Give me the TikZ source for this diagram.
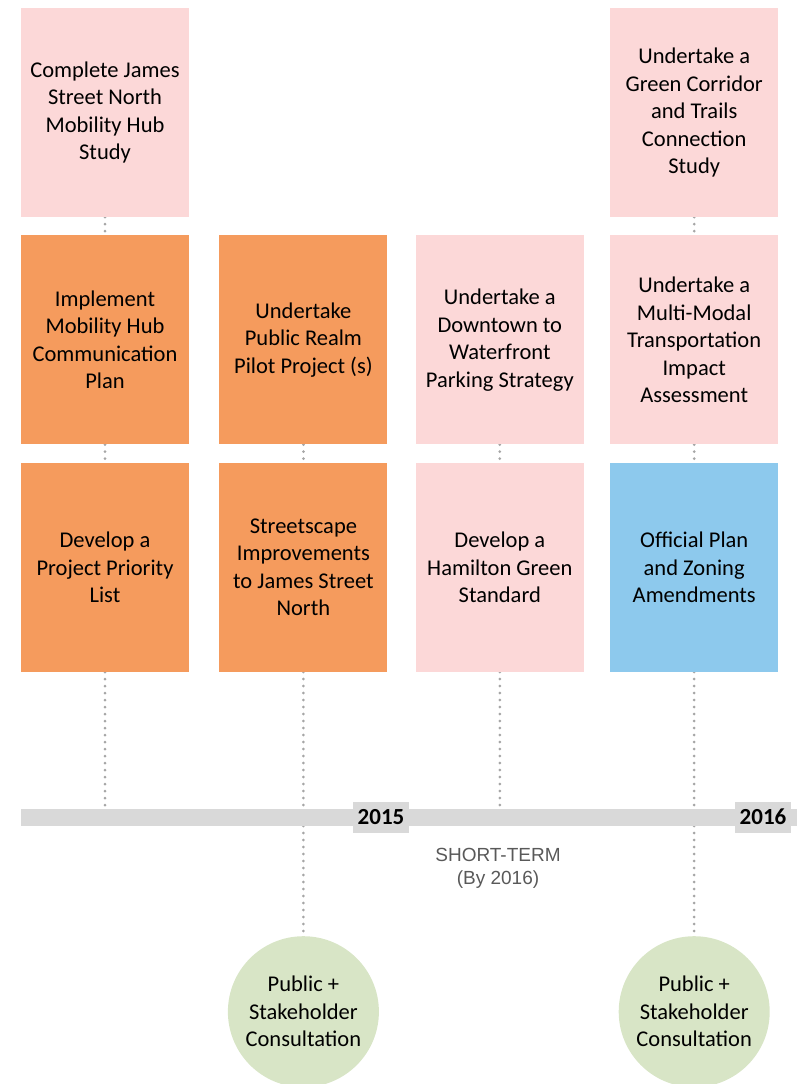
\documentclass[tikz,border=0pt]{standalone}
\usepackage{fontspec}
\setmainfont{Carlito}
\newfontfamily\arialfont{Liberation Sans}
\usetikzlibrary{positioning,backgrounds}

\definecolor{pinkbox}{HTML}{FCD8D8}
\definecolor{orangebox}{HTML}{F59B5D}
\definecolor{bluebox}{HTML}{8DC9ED}
\definecolor{greencirc}{HTML}{D8E5C6}
\definecolor{barfill}{HTML}{D9D9D9}
\definecolor{dotgray}{HTML}{A6A6A6}
\definecolor{termgray}{HTML}{595959}

\begin{document}
\begin{tikzpicture}[
    x=1pt, y=-1pt,
    node distance=18pt and 30pt,
    box/.style={rectangle, minimum width=168pt, minimum height=209pt, inner sep=0pt, align=center, font=\fontsize{22.5}{27.5}\selectfont},
    consult/.style={circle, fill=greencirc, minimum size=151pt, inner sep=0pt, align=center, font=\fontsize{22.5}{27.5}\selectfont},
    year/.style={rectangle, fill=barfill, minimum width=56pt, minimum height=31pt, inner sep=0pt, font=\fontsize{23}{26}\selectfont\bfseries},
    link/.style={dotgray, line width=3pt, line cap=round, dash pattern=on 0pt off 7pt}
]
    \useasboundingbox (0,0) rectangle (802,1084);

    % top row
    \node[box, fill=pinkbox] (a1) at (105,112.5) {Complete James\\Street North\\Mobility Hub\\Study};

    % middle row
    \node[box, fill=orangebox, below=of a1] (a2) {Implement\\Mobility Hub\\Communication\\Plan};
    \node[box, fill=orangebox, right=of a2] (b2) {Undertake\\Public Realm\\Pilot Project (s)};
    \node[box, fill=pinkbox, right=28pt of b2] (c2) {Undertake a\\Downtown to\\Waterfront\\Parking Strategy};
    \node[box, fill=pinkbox, right=26pt of c2] (d2) {Undertake a\\Multi-Modal\\Transportation\\Impact\\Assessment};
    \node[box, fill=pinkbox, above=of d2] (d1) {Undertake a\\Green Corridor\\and Trails\\Connection\\Study};

    % bottom row
    \node[box, fill=orangebox, below=of a2] (a3) {Develop a\\Project Priority\\List};
    \node[box, fill=orangebox, below=of b2] (b3) {Streetscape\\Improvements\\to James Street\\North};
    \node[box, fill=pinkbox, below=of c2] (c3) {Develop a\\Hamilton Green\\Standard};
    \node[box, fill=bluebox, below=of d2] (d3) {Official Plan\\and Zoning\\Amendments};

    % timeline
    \node[rectangle, fill=barfill, minimum width=776pt, minimum height=17pt, inner sep=0pt] (line) at (409,817) {};
    \node[year] (y15) at (381,817) {2015};
    \node[year] (y16) at (763,817) {2016};
    \node[font=\arialfont\fontsize{19}{23}\selectfont, text=termgray, align=center] (term) at (498,868) {SHORT-TERM\\(By 2016)};

    % consultation
    \node[consult, below=264pt of b3] (pub1) {Public +\\Stakeholder\\Consultation};
    \node[consult, below=264pt of d3] (pub2) {Public +\\Stakeholder\\Consultation};

    \begin{scope}[on background layer]
        \draw[link] (a1) -- (a2);
        \draw[link] (a2) -- (a3);
        \draw[link] (b2) -- (b3);
        \draw[link] (c2) -- (c3);
        \draw[link] (d1) -- (d2);
        \draw[link] (d2) -- (d3);
        \draw[link] (a3) -- (a3 |- line.south);
        \draw[link] (c3) -- (c3 |- line.south);
        \draw[link] (b3) -- (pub1);
        \draw[link] (d3) -- (pub2);
    \end{scope}
\end{tikzpicture}
\end{document}
